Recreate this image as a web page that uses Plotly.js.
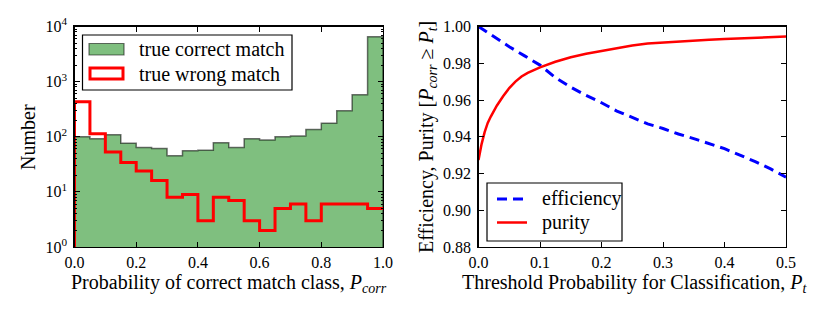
<!DOCTYPE html>
<html>
<head>
<meta charset="utf-8">
<script src="https://cdn.plot.ly/plotly-3.0.1.min.js"></script>
<style>html,body{margin:0;padding:0;background:#fff;}#chart{width:830px;height:312px;}</style>
</head>
<body>
<div id="chart"></div>
<script>
// ---- data ----
const binEdges = [0.00,0.05,0.10,0.15,0.20,0.25,0.30,0.35,0.40,0.45,0.50,0.55,0.60,0.65,0.70,0.75,0.80,0.85,0.90,0.95,1.00];
const correctCounts = [100,92,109,76,64,61,45,56,57,78,64,92,87,100,103,136,175,296,577,6500];
const wrongCounts = [431,113,53,34,24,16,8,9,3,8,7,3,2,5,6,3,6,6,6,5];
const histBase = 1;

const purityX = [0,0.005,0.01,0.015,0.02,0.03,0.04,0.05,0.06,0.07,0.08,0.09,0.10,0.125,0.15,0.175,0.20,0.225,0.25,0.275,0.30,0.325,0.35,0.375,0.40,0.425,0.45,0.475,0.50];
const purityY = [0.9273,0.9360,0.9425,0.9475,0.9510,0.9570,0.9620,0.9665,0.9700,0.9728,0.9748,0.9765,0.9778,0.9808,0.9833,0.9852,0.9868,0.9882,0.9897,0.9907,0.9913,0.9917,0.9921,0.9928,0.9932,0.9935,0.9937,0.9941,0.9945];
const effX = [0,0.025,0.05,0.075,0.10,0.125,0.15,0.175,0.20,0.225,0.25,0.275,0.30,0.325,0.35,0.375,0.40,0.425,0.45,0.475,0.50];
const effY = [1.0000,0.9945,0.9890,0.9840,0.9790,0.9722,0.9670,0.9625,0.9585,0.9540,0.9506,0.9470,0.9445,0.9415,0.9390,0.9362,0.9335,0.9300,0.9265,0.9225,0.9180];

const leftTickVals = [1,10,100,1000,10000];
const leftTickText = ['10<sup>0</sup>','10<sup>1</sup>','10<sup>2</sup>','10<sup>3</sup>','10<sup>4</sup>'];

// step path from histogram
function stepPath(edges, counts, base, closeRight){
  const x=[edges[0]], y=[base];
  for(let i=0;i<counts.length;i++){ x.push(edges[i]); y.push(counts[i]); }
  x.push(edges[edges.length-1]); y.push(counts[counts.length-1]);
  if(closeRight){ x.push(edges[edges.length-1]); y.push(base); }
  return {x,y};
}
const gStep = stepPath(binEdges, correctCounts, histBase, true);
const rStep = stepPath(binEdges, wrongCounts, histBase, false);

const W=830,H=312;
const px = v=>v/W, py = v=>1-v/H;
const FONT = 'Liberation Serif';
const tickFont = {family:FONT, size:16, color:'#000'};

const traces = [
  {x:gStep.x, y:gStep.y, type:'scatter', mode:'lines', line:{shape:'hv', color:'rgba(0,0,0,0.55)', width:1.5},
   fill:'toself', fillcolor:'#7fbf7f', xaxis:'x', yaxis:'y', hoverinfo:'skip', showlegend:false},
  {x:rStep.x, y:rStep.y, type:'scatter', mode:'lines', line:{shape:'hv', color:'#ff0000', width:3},
   xaxis:'x', yaxis:'y', showlegend:false},
  {x:effX, y:effY, type:'scatter', mode:'lines', line:{color:'#0000ff', width:3, dash:'10px,6px'},
   xaxis:'x2', yaxis:'y2', showlegend:false},
  {x:purityX, y:purityY, type:'scatter', mode:'lines', line:{color:'#ff0000', width:2.5},
   xaxis:'x2', yaxis:'y2', showlegend:false}
];

const axCommon = {showline:true, linecolor:'#000', linewidth:1.2, mirror:'ticks', ticks:'inside', ticklen:5, tickwidth:1,
  tickcolor:'#000', showgrid:false, zeroline:false, tickfont:tickFont};

const yDom = [py(247), py(26.5)];
const layout = {
  width:W, height:H, margin:{l:0,r:0,t:0,b:0}, paper_bgcolor:'#fff', plot_bgcolor:'rgba(0,0,0,0)',
  showlegend:false, font:{family:FONT},
  xaxis: Object.assign({}, axCommon, {domain:[px(74.5), px(383)], range:[0,1], dtick:0.2, tick0:0, tickformat:'.1f', anchor:'y', ticklabelstandoff:1}),
  yaxis: Object.assign({}, axCommon, {domain:yDom, type:'log', range:[0,4], tickvals:leftTickVals, ticktext:leftTickText, anchor:'x', ticklabelstandoff:3,
    minor:{ticks:'inside', ticklen:2.5, dtick:'D1', tickcolor:'#000', showgrid:false}}),
  xaxis2: Object.assign({}, axCommon, {domain:[px(478.5), px(786)], range:[0,0.5], dtick:0.1, tick0:0, tickformat:'.1f', anchor:'y2', ticklabelstandoff:1}),
  yaxis2: Object.assign({}, axCommon, {domain:yDom, range:[0.88,1.0], dtick:0.02, tick0:0.88, tickformat:'.2f', anchor:'x2', ticklabelstandoff:3}),
  shapes: [
    // left legend
    {type:'rect', xref:'paper', yref:'paper', x0:px(82.5), x1:px(292), y0:py(35), y1:py(90), line:{color:'#000', width:1.2}, fillcolor:'#fff'},
    {type:'rect', xref:'paper', yref:'paper', x0:px(89), x1:px(124), y0:py(43.5), y1:py(55), line:{color:'rgba(0,0,0,0.55)', width:1.2}, fillcolor:'#7fbf7f'},
    {type:'rect', xref:'paper', yref:'paper', x0:px(90), x1:px(123), y0:py(68), y1:py(79), line:{color:'#ff0000', width:3}, fillcolor:'rgba(0,0,0,0)'},
    // right legend
    {type:'rect', xref:'paper', yref:'paper', x0:px(487), x1:px(622), y0:py(183), y1:py(241), line:{color:'#000', width:1.2}, fillcolor:'#fff'},
    {type:'line', xref:'paper', yref:'paper', x0:px(497), x1:px(527), y0:py(199), y1:py(199), line:{color:'#0000ff', width:3, dash:'10px,6px'}},
    {type:'line', xref:'paper', yref:'paper', x0:px(497), x1:px(527), y0:py(222.5), y1:py(222.5), line:{color:'#ff0000', width:2.5}}
  ],
  annotations: [
    {xref:'paper', yref:'paper', x:px(137), y:py(49), xanchor:'left', yanchor:'middle', showarrow:false, text:'true correct match', font:{family:FONT, size:20, color:'#000'}},
    {xref:'paper', yref:'paper', x:px(137), y:py(74), xanchor:'left', yanchor:'middle', showarrow:false, text:'true wrong match', font:{family:FONT, size:20, color:'#000'}},
    {xref:'paper', yref:'paper', x:px(540), y:py(198), xanchor:'left', yanchor:'middle', showarrow:false, text:'efficiency', font:{family:FONT, size:20, color:'#000'}},
    {xref:'paper', yref:'paper', x:px(540), y:py(222), xanchor:'left', yanchor:'middle', showarrow:false, text:'purity', font:{family:FONT, size:20, color:'#000'}},
    {xref:'paper', yref:'paper', x:px(229), y:py(283), xanchor:'center', yanchor:'middle', showarrow:false,
      text:'Probability of correct match class, <i>P<sub>corr</sub></i>', font:{family:FONT, size:20, color:'#000'}},
    {xref:'paper', yref:'paper', x:px(635), y:py(283), xanchor:'center', yanchor:'middle', showarrow:false,
      text:'Threshold Probability for Classification, <i>P<sub>t</sub></i>', font:{family:FONT, size:20, color:'#000'}},
    {xref:'paper', yref:'paper', x:px(28), y:py(137), xanchor:'center', yanchor:'middle', showarrow:false, textangle:-90,
      text:'Number', font:{family:FONT, size:20, color:'#000'}},
    {xref:'paper', yref:'paper', x:px(427), y:py(137), xanchor:'center', yanchor:'middle', showarrow:false, textangle:-90,
      text:'Efficiency, Purity [<i>P<sub>corr</sub></i> ≥ <i>P<sub>t</sub></i>]', font:{family:FONT, size:20, color:'#000'}}
  ]
};

Plotly.newPlot('chart', traces, layout, {staticPlot:true, displayModeBar:false});
</script>
</body>
</html>
